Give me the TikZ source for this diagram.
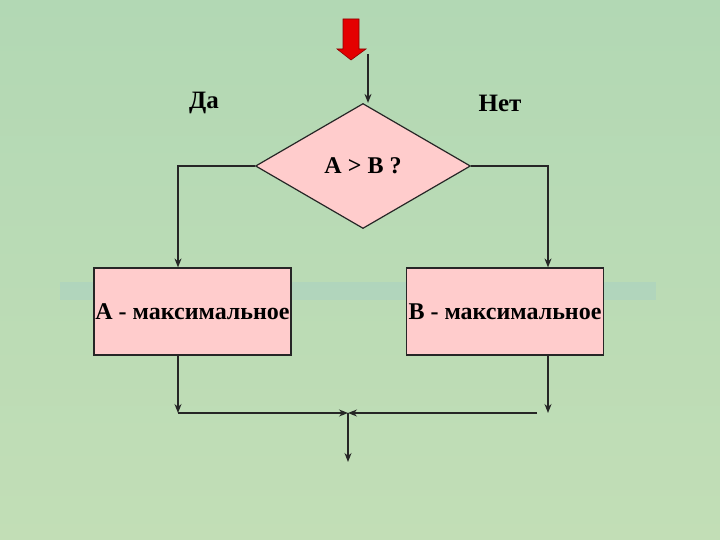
\documentclass[tikz,border=0pt]{standalone}
\usepackage{fontspec}
\setmainfont{Liberation Serif}
\usetikzlibrary{shapes.geometric, arrows.meta}

\definecolor{bgGreen}{RGB}{178,216,180}
\definecolor{bgYellow}{RGB}{194,222,182}
\definecolor{bandBlue}{RGB}{150,196,212}
\definecolor{boxPink}{RGB}{255,204,204}
\definecolor{arrowRed}{RGB}{228,0,0}

\begin{document}
\begin{tikzpicture}[x=1pt, y=-1pt, line width=1.2pt,
    block/.style={draw=black!85, fill=boxPink, minimum width=197pt, minimum height=87pt,
      inner sep=0pt, font=\bfseries\fontsize{24}{24}\selectfont},
    cond/.style={diamond, draw=black!85, fill=boxPink, minimum width=215pt, minimum height=125pt,
      inner sep=0pt, font=\bfseries\fontsize{24}{24}\selectfont},
    answer/.style={font=\bfseries\fontsize{25}{25}\selectfont},
    flow/.style={draw=black!85, -{Stealth[length=9pt, width=7pt]}}]

    % draw background
    \shade[top color=bgGreen, bottom color=bgYellow] (0, 0) rectangle (720, 540);
    \useasboundingbox (0, 0) rectangle (720, 540);
    \fill[bandBlue, opacity=0.25] (60, 282) rectangle (656, 300);

    % draw start arrow
    \filldraw[fill=arrowRed, draw=red!55!black, line width=0.6pt]
      (343, 19) -- (359, 19) -- (359, 49) -- (366, 49) -- (351, 60)
      -- (337, 49) -- (343, 49) -- cycle;

    % draw blocks
    \node[cond] (cond) at (363, 166) {A > B ?};
    \node[block] (maxA) at (192.5, 311.5) {A - максимальное};
    \node[block] (maxB) at (505, 311.5) {B - максимальное};

    % draw answers
    \node[answer] (yes) at (204, 103) {Да};
    \node[answer] (no) at (500, 103) {Нет};

    % draw turning points
    \coordinate (entry) at (368, 54);
    \coordinate (yesTurn) at (178, 166);
    \coordinate (noTurn) at (548, 166);
    \coordinate (yesEnd) at (178, 413);
    \coordinate (noEnd) at (548, 413);
    \coordinate (noStart) at (537, 413);
    \coordinate (merge) at (348, 413);
    \coordinate (exit) at (348, 462);

    % draw connectors
    \draw[flow] (entry) -- (entry |- cond.north);
    \draw[flow] (cond.west) -- (yesTurn) -- (yesTurn |- maxA.north);
    \draw[flow] (cond.east) -- (noTurn) -- (noTurn |- maxB.north);
    \draw[flow] (yesTurn |- maxA.south) -- (yesEnd);
    \draw[flow] (noTurn |- maxB.south) -- (noEnd);
    \draw[flow] (yesEnd) -- (merge);
    \draw[flow] (noStart) -- (merge);
    \draw[flow] (merge) -- (exit);

\end{tikzpicture}
\end{document}
